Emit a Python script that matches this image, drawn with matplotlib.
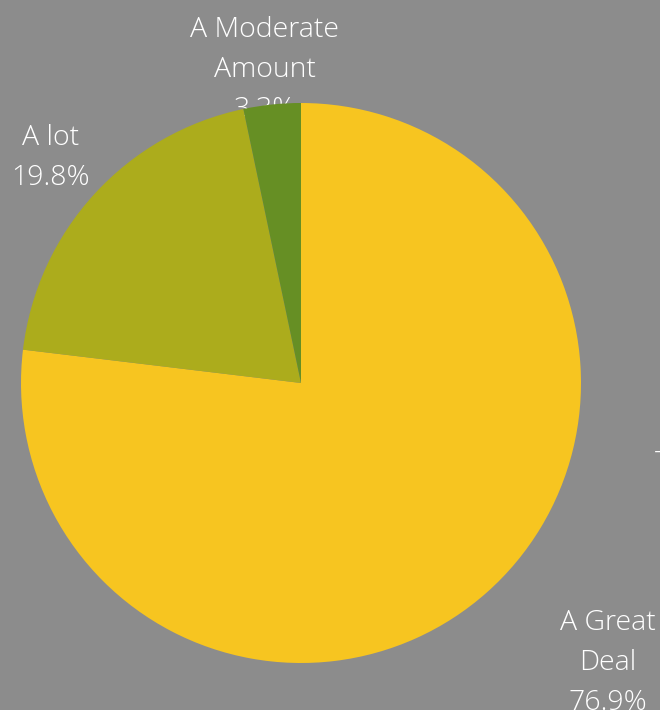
import matplotlib
matplotlib.use("Agg")
import matplotlib.pyplot as plt

categories = ["A Great Deal", "A lot", "A Moderate Amount"]
values = [76.9, 19.8, 3.3]
label_texts = ["A Great\nDeal\n76.9%", "A lot\n19.8%", "A Moderate\nAmount\n3.3%"]
colors = ["#F7C520", "#ACAC1C", "#668F24"]
label_pos = [(1.096, -1.0), (-0.896, 0.803), (-0.129, 1.118)]

BG = "#8C8C8C"
W, H = 660, 710
fig = plt.figure(figsize=(W / 100, H / 100), dpi=100, facecolor=BG)
cx, cy, r = 301, 383, 280
ax = fig.add_axes([(cx - r) / W, (H - cy - r) / H, 2 * r / W, 2 * r / H])
ax.set_facecolor("none")
ax.axis("off")
wedges, _ = ax.pie(values, colors=colors, startangle=90, counterclock=False,
                   radius=1, wedgeprops=dict(linewidth=0))
for w in wedges:
    w.set_zorder(2)
ax.set_xlim(-1, 1)
ax.set_ylim(-1, 1)
ax.set_aspect("equal")

for txt, (x, y) in zip(label_texts, label_pos):
    ax.text(x, y, txt, ha="center", va="center", color="white",
            fontsize=20.5, family=["Open Sans", "DejaVu Sans"], fontweight="light",
            linespacing=1.55, zorder=0, clip_on=False)

# partially clipped stray text at right edge
fig.text(655 / W, 1 - 450 / H, "T", ha="left", va="top", color="white",
         fontsize=20.5, family=["Open Sans", "DejaVu Sans"], fontweight="light")

fig.savefig("out.png", dpi=100, facecolor=BG)
